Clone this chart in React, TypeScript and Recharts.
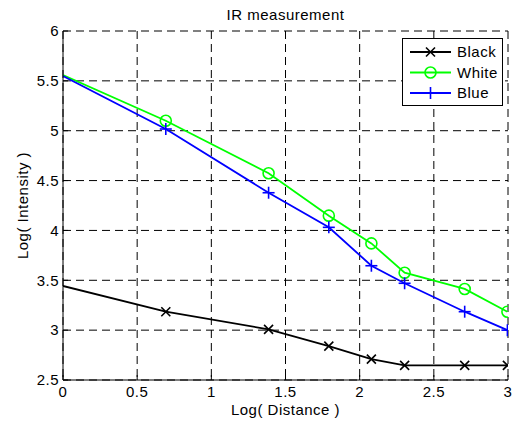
import React from "react";
import { LineChart, Line, XAxis, YAxis, CartesianGrid, Legend, Customized } from "recharts";

const distanceLog = [0, 0.693, 1.386, 1.792, 2.079, 2.303, 2.708, 2.996];
const blackSeries = [3.443, 3.185, 3.008, 2.84, 2.71, 2.647, 2.647, 2.647];
const whiteSeries = [5.559, 5.1, 4.573, 4.148, 3.87, 3.576, 3.413, 3.185];
const blueSeries = [5.549, 5.017, 4.378, 4.031, 3.646, 3.47, 3.185, 3.0];
const xTicks = [0, 0.5, 1, 1.5, 2, 2.5, 3];
const yTicks = [2.5, 3, 3.5, 4, 4.5, 5, 5.5, 6];
const seriesNames = ["Black", "White", "Blue"];

const data = distanceLog.map((x, i) => ({
  x,
  black: blackSeries[i],
  white: whiteSeries[i],
  blue: blueSeries[i],
}));

const FONT = "'Liberation Sans', Arial, Helvetica, sans-serif";
const FS = 15;
const LS = 0.5;

const XMark = ({ cx, cy, color }: any) => (
  <g>
    <line x1={cx - 4.5} y1={cy - 4.5} x2={cx + 4.5} y2={cy + 4.5} stroke={color} strokeWidth={1.6} />
    <line x1={cx - 4.5} y1={cy + 4.5} x2={cx + 4.5} y2={cy - 4.5} stroke={color} strokeWidth={1.6} />
  </g>
);
const OMark = ({ cx, cy, color }: any) => (
  <circle cx={cx} cy={cy} r={5.5} stroke={color} strokeWidth={1.6} fill="none" />
);
const PMark = ({ cx, cy, color }: any) => (
  <g>
    <line x1={cx - 6} y1={cy} x2={cx + 6} y2={cy} stroke={color} strokeWidth={1.6} />
    <line x1={cx} y1={cy - 6} x2={cx} y2={cy + 6} stroke={color} strokeWidth={1.6} />
  </g>
);

const makeDot = (Mark: any, color: string) => (props: any) => {
  const { cx, cy, index } = props;
  if (index === 0 || cx == null || cy == null) return <g key={`d${index}`} />;
  return (
    <g key={`d${index}`}>
      <Mark cx={cx} cy={cy} color={color} />
    </g>
  );
};

const XTick = (props: any) => {
  const { x, y, payload } = props;
  return (
    <g>
      <line x1={x} y1={y} x2={x} y2={y - 5} stroke="#000" strokeWidth={1} />
      <text x={x} y={y + 17} textAnchor="middle" fontFamily={FONT} fontSize={FS} letterSpacing={LS} fill="#000">
        {payload.value}
      </text>
    </g>
  );
};

const YTick = (props: any) => {
  const { x, y, payload } = props;
  return (
    <g>
      <line x1={x} y1={y} x2={x + 5} y2={y} stroke="#000" strokeWidth={1} />
      <text x={x - 4} y={y} dy="0.35em" textAnchor="end" fontFamily={FONT} fontSize={FS} letterSpacing={LS} fill="#000">
        {payload.value}
      </text>
    </g>
  );
};

const legendItems = [
  { name: seriesNames[0], color: "#000000", Mark: XMark },
  { name: seriesNames[1], color: "#00ff00", Mark: OMark },
  { name: seriesNames[2], color: "#0000ff", Mark: PMark },
];

const LegendBox = () => (
  <svg width={101} height={68} style={{ display: "block" }}>
    <rect x={0.5} y={0.5} width={100} height={67} fill="#fff" stroke="#000" strokeWidth={1} />
    {legendItems.map((it, i) => {
      const cy = 14 + i * 20.5;
      return (
        <g key={it.name}>
          <line x1={8} y1={cy} x2={49} y2={cy} stroke={it.color} strokeWidth={1.8} />
          <it.Mark cx={28.5} cy={cy} color={it.color} />
          <text x={55} y={cy} dy="0.35em" fontFamily={FONT} fontSize={FS} letterSpacing={LS} fill="#000">
            {it.name}
          </text>
        </g>
      );
    })}
  </svg>
);

const Texts = () => (
  <g>
    <text x={285.5} y={15} dy="0.35em" textAnchor="middle" fontFamily={FONT} fontSize={FS} letterSpacing={LS} fill="#000">
      IR measurement
    </text>
    <text x={285.5} y={410} dy="0.35em" textAnchor="middle" fontFamily={FONT} fontSize={FS} letterSpacing={LS} fill="#000">
      Log( Distance )
    </text>
    <text
      x={23}
      y={205.5}
      dy="0.35em"
      textAnchor="middle"
      fontFamily={FONT}
      fontSize={FS}
      letterSpacing={LS}
      fill="#000"
      transform="rotate(-90, 23, 205.5)"
    >
      Log( Intensity )
    </text>
  </g>
);

export default function App() {
  return (
    <div style={{ width: 523, height: 423, background: "#fff" }}>
      <style>{"body{margin:0;background:#fff}"}</style>
      <LineChart width={523} height={423} data={data} margin={{ top: 31, right: 15, left: 0, bottom: 0 }}>
        <CartesianGrid stroke="#000" strokeDasharray="8 5" strokeWidth={1} />
        <XAxis
          dataKey="x"
          type="number"
          domain={[0, 3]}
          ticks={xTicks}
          height={43}
          tickLine={false}
          tickSize={0}
          tickMargin={0}
          tick={<XTick />}
          axisLine={{ stroke: "#000", strokeWidth: 1 }}
          allowDataOverflow
        />
        <YAxis
          type="number"
          domain={[2.5, 6]}
          ticks={yTicks}
          width={63}
          tickLine={false}
          tickSize={0}
          tickMargin={0}
          tick={<YTick />}
          axisLine={{ stroke: "#000", strokeWidth: 1 }}
          allowDataOverflow
        />
        <Legend
          layout="vertical"
          align="center"
          verticalAlign="middle"
          wrapperStyle={{ position: "absolute", left: 402, top: 38, width: 101, height: 68 }}
          content={() => <LegendBox />}
        />
        <Line
          dataKey="black"
          name={seriesNames[0]}
          stroke="#000000"
          strokeWidth={1.8}
          dot={makeDot(XMark, "#000000")}
          activeDot={false}
          isAnimationActive={false}
        />
        <Line
          dataKey="white"
          name={seriesNames[1]}
          stroke="#00ff00"
          strokeWidth={1.8}
          dot={makeDot(OMark, "#00ff00")}
          activeDot={false}
          isAnimationActive={false}
        />
        <Line
          dataKey="blue"
          name={seriesNames[2]}
          stroke="#0000ff"
          strokeWidth={1.8}
          dot={makeDot(PMark, "#0000ff")}
          activeDot={false}
          isAnimationActive={false}
        />
        <Customized component={Texts} />
      </LineChart>
    </div>
  );
}
